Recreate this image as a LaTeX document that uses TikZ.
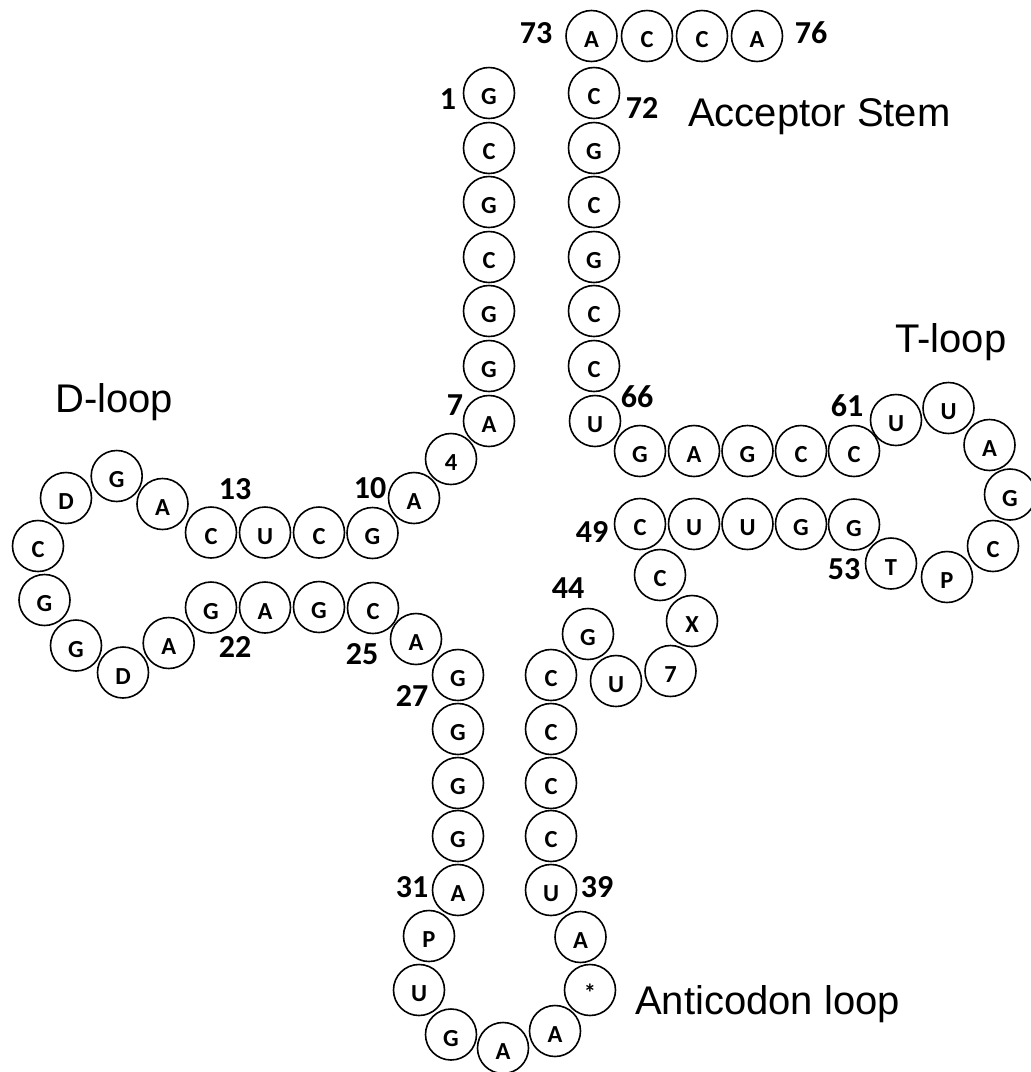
\documentclass[tikz,border=0pt]{standalone}
\usepackage{fontspec}
\setmainfont{Liberation Sans}
\newfontfamily\basefont{Carlito}
\tikzset{
  nt/.style={circle, draw, line width=1.6pt, minimum size=51pt, inner sep=0pt,
    font=\basefont\bfseries\fontsize{24.5}{24.5}\selectfont,
    text height=23.5pt, text depth=0pt},
  idx/.style={inner sep=0pt, font=\basefont\bfseries\fontsize{32}{32}\selectfont},
  region/.style={inner sep=0pt, anchor=base west, font=\fontsize{40}{40}\selectfont}
}
\begin{document}
\begin{tikzpicture}[x=1pt, y=-1pt]
\useasboundingbox (0,0) rectangle (1031,1072);
% nucleotides, numbered along the chain from the 5' end
\foreach \i/\x/\y/\t in {
  1/489/93/G, 2/489/148/C, 3/489/202/G, 4/489/257/C, 5/489/311/G, 6/489/366/G, 7/489/421/A,
  8/451/459/4, 9/414/498/A, 10/372.5/533/G,
  11/319/532.5/C, 12/265/532.5/U, 13/211/532.5/C,
  14/162.5/504/A, 15/116.7/476/G, 16/66/498/D, 17/38/546/C, 18/44.5/600/G,
  19/76/645.5/G, 20/123/672.5/D, 21/168.7/643/A,
  22/211/607.5/G, 23/265/607.5/A, 24/319/607/G, 25/373/608/C, 26/416/639/A,
  27/458/675/G, 28/458/729/G, 29/458/783/G, 30/458/836/G, 31/458/890/A,
  32/429/936/P, 33/419/990/U, 34/451/1034.5/G, 35/503/1048/A, 36/555/1031/A,
  37/590/990/*, 38/580.5/937/A,
  39/551/890/U, 40/551/836/C, 41/551/783/C, 42/551/729/C, 43/551/675/C,
  44/588/634/G, 45/616/681/U, 46/670.5/671/7, 47/692/621/X, 48/660/575/C,
  49/640/524/C, 50/694/524/U, 51/747.5/524/U, 52/801/524/G, 53/854/524.5/G,
  54/891/563.5/T, 55/947/577/P, 56/993/546/C, 57/1010/494.5/G, 58/989.5/445/A,
  59/948.5/408/U, 60/896/420/U,
  61/854/451/C, 62/801/451/C, 63/747.5/451/G, 64/694/451/A, 65/640/451/G,
  66/595/421/U, 67/594/366/C, 68/594/311/C, 69/594/257/G, 70/594/202/C,
  71/594/148/G, 72/594/93/C,
  73/591.5/36/A, 74/647/36/C, 75/702/36/C, 76/757/36/A}
  \node[nt] (b\i) at (\x,\y) {\t};
% position numbers
\foreach \n/\x/\y in {1/448/99, 7/455/405, 10/370/488, 13/235/489, 22/235/647,
  25/362/654, 27/412/696, 31/412/887, 39/597/887, 44/568/588, 49/592/532,
  53/844/569, 61/847/406, 66/637/397, 72/642/108, 73/536/33, 76/811/33}
  \node[idx] (l\n) at (\x,\y) {\n};
% arm names
\node[region] (acc) at (688,126) {Acceptor Stem};
\node[region] (tl) at (895,352) {T-loop};
\node[region] (dl) at (55,412) {D-loop};
\node[region] (ac) at (635,1014) {Anticodon loop};
\end{tikzpicture}
\end{document}
